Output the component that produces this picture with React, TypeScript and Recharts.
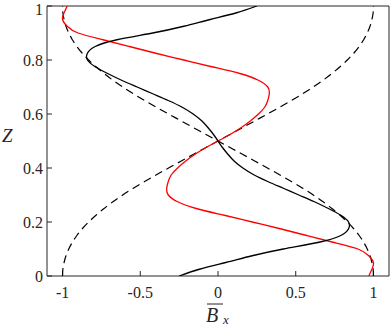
import React from 'react';
import { ScatterChart, Scatter, XAxis, YAxis } from 'recharts';

// z grid shared by every curve (0 to 1, step 0.025)
const zGrid = [
  0, 0.025, 0.05, 0.075, 0.1, 0.125, 0.15, 0.175, 0.2, 0.225,
  0.25, 0.275, 0.3, 0.325, 0.35, 0.375, 0.4, 0.425, 0.45, 0.475,
  0.5, 0.525, 0.55, 0.575, 0.6, 0.625, 0.65, 0.675, 0.7, 0.725,
  0.75, 0.775, 0.8, 0.825, 0.85, 0.875, 0.9, 0.925, 0.95, 0.975, 1,
];

const blackSolid = [
  -0.25, -0.12, 0.05, 0.22, 0.42, 0.65, 0.79, 0.84, 0.84, 0.79,
  0.71, 0.62, 0.52, 0.42, 0.32, 0.23, 0.16, 0.105, 0.065, 0.03,
  0, -0.03, -0.065, -0.105, -0.16, -0.23, -0.32, -0.42, -0.52, -0.62,
  -0.71, -0.79, -0.84, -0.84, -0.79, -0.65, -0.42, -0.22, -0.05, 0.12, 0.25,
];

const redSolid = [
  0.97, 0.99, 1.0, 0.97, 0.9, 0.74, 0.57, 0.4, 0.22, 0.04,
  -0.14, -0.26, -0.32, -0.33, -0.32, -0.3, -0.26, -0.21, -0.15, -0.08,
  0, 0.08, 0.15, 0.21, 0.26, 0.3, 0.32, 0.33, 0.32, 0.26,
  0.14, -0.04, -0.22, -0.4, -0.57, -0.74, -0.9, -0.97, -1.0, -0.99, -0.97,
];

const dashedRising = [
  -1, -0.998, -0.99, -0.978, -0.96, -0.937, -0.908, -0.873, -0.832, -0.785,
  -0.733, -0.676, -0.613, -0.545, -0.472, -0.396, -0.318, -0.239, -0.16, -0.08,
  0, 0.08, 0.16, 0.239, 0.318, 0.396, 0.472, 0.545, 0.613, 0.676,
  0.733, 0.785, 0.832, 0.873, 0.908, 0.937, 0.96, 0.978, 0.99, 0.998, 1,
];

const dashedFalling = [
  1, 0.998, 0.99, 0.978, 0.96, 0.937, 0.908, 0.873, 0.832, 0.785,
  0.733, 0.676, 0.613, 0.545, 0.472, 0.396, 0.318, 0.239, 0.16, 0.08,
  0, -0.08, -0.16, -0.239, -0.318, -0.396, -0.472, -0.545, -0.613, -0.676,
  -0.733, -0.785, -0.832, -0.873, -0.908, -0.937, -0.96, -0.978, -0.99, -0.998, -1,
];

const xTicks = [-1, -0.5, 0, 0.5, 1];
const zTicks = [0, 0.2, 0.4, 0.6, 0.8, 1];

const toPoints = (xs: number[]) => xs.map((x, i) => ({ x, z: zGrid[i] }));

const axisColor = '#262626';
const serif = 'Liberation Serif, serif';
const tickStyle = { fill: axisColor, fontSize: 16, fontFamily: serif, style: { fontFamily: serif } };

const NoDot = () => null;

export default function App() {
  return (
    <div
      style={{
        position: 'absolute',
        left: 0,
        top: 0,
        width: 390,
        height: 327,
        background: '#fff',
        fontFamily: serif,
      }}
    >
      <ScatterChart width={390} height={327} margin={{ top: 5, right: 0, bottom: 0, left: 0 }}>
        <XAxis
          xAxisId="b"
          type="number"
          dataKey="x"
          domain={[-1.1, 1.1]}
          ticks={xTicks}
          allowDataOverflow
          height={51}
          tickSize={-5}
          tickMargin={16}
          stroke={axisColor}
          tick={tickStyle}
        />
        <XAxis
          xAxisId="t"
          orientation="top"
          type="number"
          dataKey="x"
          domain={[-1.1, 1.1]}
          ticks={xTicks}
          allowDataOverflow
          height={1}
          tickSize={-5}
          stroke={axisColor}
          tick={false}
        />
        <YAxis
          yAxisId="l"
          type="number"
          dataKey="z"
          domain={[0, 1]}
          ticks={zTicks}
          allowDataOverflow
          width={47}
          tickSize={-5}
          tickMargin={9}
          stroke={axisColor}
          tick={tickStyle}
        />
        <YAxis
          yAxisId="r"
          orientation="right"
          type="number"
          dataKey="z"
          domain={[0, 1]}
          ticks={zTicks}
          allowDataOverflow
          width={1}
          tickSize={-5}
          stroke={axisColor}
          tick={false}
        />
        <Scatter
          xAxisId="b"
          yAxisId="l"
          data={toPoints(dashedRising)}
          fill="#000"
          shape={NoDot}
          line={{ strokeWidth: 1.2, strokeDasharray: '8 5' }}
          lineJointType="natural"
          isAnimationActive={false}
        />
        <Scatter
          xAxisId="b"
          yAxisId="l"
          data={toPoints(dashedFalling)}
          fill="#000"
          shape={NoDot}
          line={{ strokeWidth: 1.2, strokeDasharray: '8 5' }}
          lineJointType="natural"
          isAnimationActive={false}
        />
        <Scatter
          xAxisId="b"
          yAxisId="l"
          data={toPoints(redSolid)}
          fill="#ff0000"
          shape={NoDot}
          line={{ strokeWidth: 1.3 }}
          lineJointType="natural"
          isAnimationActive={false}
        />
        <Scatter
          xAxisId="b"
          yAxisId="l"
          data={toPoints(blackSolid)}
          fill="#000"
          shape={NoDot}
          line={{ strokeWidth: 1.3 }}
          lineJointType="natural"
          isAnimationActive={false}
        />
      </ScatterChart>
      <svg
        width={390}
        height={327}
        style={{ position: 'absolute', left: 0, top: 0, pointerEvents: 'none' }}
      >
        <text x={2} y={142} fontFamily={serif} fontStyle="italic" fontSize={19} fill={axisColor}>
          Z
        </text>
        <line x1={207} x2={223} y1={304} y2={304} stroke={axisColor} strokeWidth={1} />
        <text x={206} y={322} fontFamily={serif} fontStyle="italic" fontSize={20} fill={axisColor}>
          B
        </text>
        <text x={223} y={324} fontFamily={serif} fontStyle="italic" fontSize={13} fill={axisColor}>
          x
        </text>
      </svg>
    </div>
  );
}
